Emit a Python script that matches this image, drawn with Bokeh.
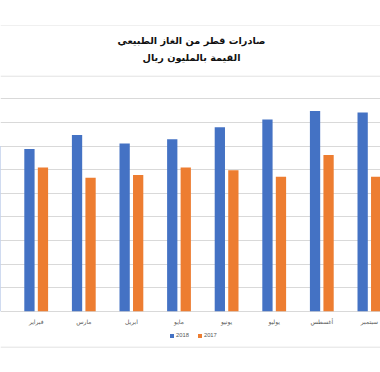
from bokeh.plotting import figure
from bokeh.models import (ColumnDataSource, Range1d, FixedTicker, Grid, Label,
                          Legend, LegendItem, Span, CDSView, BooleanFilter)
from bokeh.core.properties import value
from bokeh.transform import dodge
from bokeh.embed import file_html
from bokeh.resources import INLINE

# ---- data (million riyal) ----
months = ["يناير", "فبراير", "مارس", "ابريل", "مايو", "يونيو", "يوليو", "أغسطس", "سبتمبر"]
values_2018 = [14000, 13740, 14940, 14220, 14580, 15580, 16240, 16960, 16840]
values_2017 = [13220, 12180, 11320, 11540, 12180, 11940, 11400, 13240, 11400]
series_names = ["2018", "2017"]
y_ticks = [0, 2000, 4000, 6000, 8000, 10000, 12000, 14000, 16000, 18000]
title_line1 = "صادرات قطر من الغاز الطبيعي"
title_line2 = "القيمة بالمليون ريال"

idx = list(range(len(months)))
src = ColumnDataSource(dict(x=idx, y18=values_2018, y17=values_2017, label=months))

BLUE = "#4472C4"
ORANGE = "#ED7D31"
GRID = "#d9d9d9"
AR_FONT = "DejaVu Sans"

W, H = 380, 372
x_range = Range1d(0.25, 8.233)
p = figure(width=W, height=H, output_backend="svg", toolbar_location=None,
           x_range=x_range, y_range=Range1d(-5195, 26331),
           x_axis_type=None, y_axis_type=None,
           min_border_left=0, min_border_right=0, min_border_top=0, min_border_bottom=0,
           title=None)
p.outline_line_color = None
p.background_fill_color = "white"
p.border_fill_color = "white"

# horizontal gridlines (incl. the category axis line at 0)
p.add_layout(Grid(dimension=1, ticker=FixedTicker(ticks=y_ticks),
                  grid_line_color=GRID, grid_line_width=1))

r18 = p.vbar(x=dodge("x", -0.142, range=p.x_range), top="y18", width=0.216,
             source=src, fill_color=BLUE, line_color=None)
r17 = p.vbar(x=dodge("x", 0.142, range=p.x_range), top="y17", width=0.216,
             source=src, fill_color=ORANGE, line_color=None)

# category labels under the axis (only those whose centre is inside the visible window)
visible = [x_range.start <= i <= x_range.end for i in idx]
p.text(x="x", y=0, text="label", source=src, view=CDSView(filter=BooleanFilter(visible)),
       text_align="center", text_baseline="middle", y_offset=10, text_font=value(AR_FONT),
       text_font_size="6px", text_color="#595959")

# legend below the labels
legend = Legend(items=[LegendItem(label=series_names[0], renderers=[r18]),
                       LegendItem(label=series_names[1], renderers=[r17])],
                orientation="horizontal", location=(169, 34),
                label_text_font="Liberation Sans", label_text_font_size="5.8px",
                label_text_color="#595959", glyph_width=5, glyph_height=5,
                label_height=5, label_width=0, label_standoff=2, spacing=8,
                padding=0, margin=0, border_line_color=None, background_fill_alpha=0)
p.add_layout(legend)

# two-line chart title
for txt, ys in ((title_line1, H - 40), (title_line2, H - 57)):
    p.add_layout(Label(x=191, y=ys, x_units="screen", y_units="screen", text=txt,
                       text_align="center", text_baseline="middle",
                       text_font=AR_FONT, text_font_size="9.7px",
                       text_font_style="bold", text_color="#111111"))

# light rules of the chart box
p.add_layout(Span(location=24212, dimension="width", line_color="#f0f0f0", line_width=1))
p.add_layout(Span(location=19915, dimension="width", line_color="#e2e2e2", line_width=1))
p.add_layout(Span(location=-3051, dimension="width", line_color="#e2e2e2", line_width=1))

open("out.html", "w").write(file_html(p, INLINE))
